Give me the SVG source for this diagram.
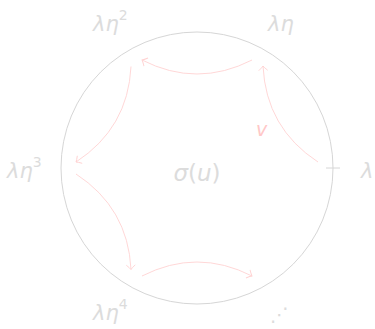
<svg xmlns="http://www.w3.org/2000/svg" width="375" height="329" viewBox="0 0 375 329">
<style>
.lbl{font-family:"DejaVu Sans",sans-serif;font-style:italic;font-size:21px;fill:#dcdcdc}
.up{font-style:normal}
.sup{font-size:14px;font-style:normal}
.arr{fill:none;stroke:#ffd2d2;stroke-width:0.9;marker-end:url(#to)}
</style>
<defs>
<marker id="to" markerUnits="userSpaceOnUse" markerWidth="12" markerHeight="12" refX="0" refY="0" viewBox="-6 -6 12 12" orient="auto" overflow="visible">
<path d="M-4.5,-4.5 Q-1.5,-1 0,0 Q-1.5,1 -4.5,4.5" fill="none" stroke="#ffd2d2" stroke-width="0.9"/>
</marker>
</defs>
<rect width="375" height="329" fill="#fff"/>
<g id="circle">
<circle cx="197" cy="168" r="136" fill="none" stroke="#d6d6d6" stroke-width="1"/>
<line x1="326" y1="168" x2="340" y2="168" stroke="#d6d6d6" stroke-width="1"/>
</g>
<g id="connectors">
<path class="arr" d="M318,162 Q266,128 263,66"/>
<path class="arr" d="M252,60 Q197,88 142,60"/>
<path class="arr" d="M131,66.5 Q128,128 76,162"/>
<path class="arr" d="M76,174 Q128,208 131,269.5"/>
<path class="arr" d="M142,276 Q197,248 252,276"/>
</g>
<g id="n0"><text class="lbl" x="361" y="178">λ</text></g>
<g id="n1"><text class="lbl" x="268" y="31">λη</text></g>
<g id="n2"><text class="lbl" x="93" y="31">λη<tspan class="sup" dy="-11">2</tspan></text></g>
<g id="n3"><text class="lbl" x="7" y="178">λη<tspan class="sup" dy="-11">3</tspan></text></g>
<g id="n4"><text class="lbl" x="93" y="320">λη<tspan class="sup" dy="-11">4</tspan></text></g>
<g id="n5"><text class="lbl" x="270" y="321" style="font-style:normal;font-size:19px">⋰</text></g>
<g id="center"><text class="lbl" x="197" y="181" text-anchor="middle" style="font-size:23px">σ<tspan class="up">(</tspan>u<tspan class="up">)</tspan></text></g>
<g id="label-v"><text class="lbl" x="256" y="136" style="fill:#ffc8c8;font-size:19px">v</text></g>
</svg>
